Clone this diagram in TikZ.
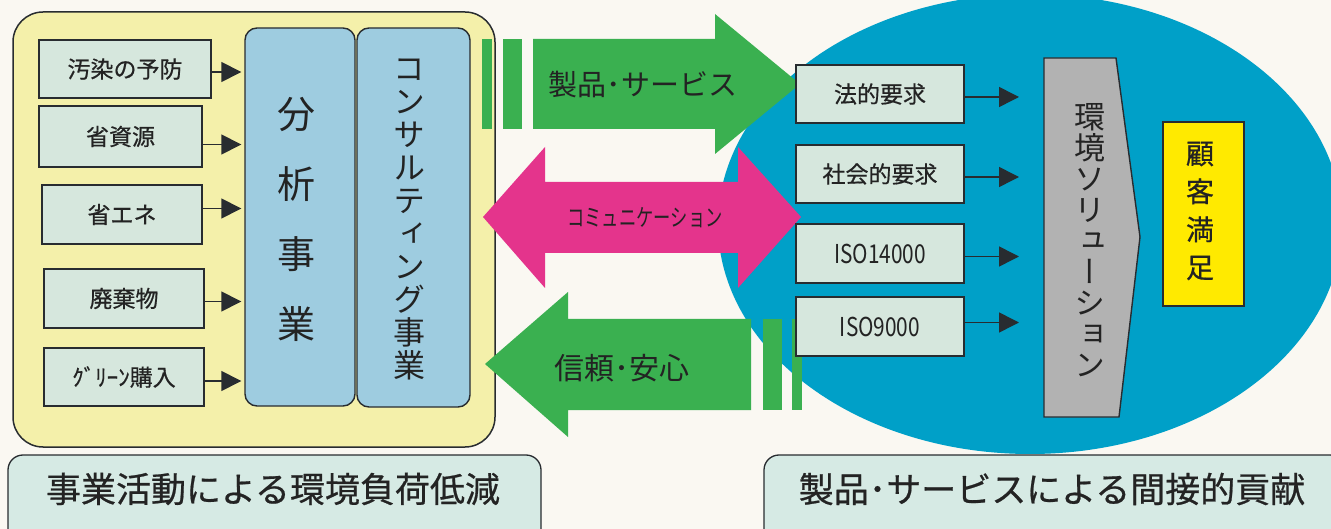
\documentclass[tikz,border=0pt]{standalone}
\usepackage{fontspec}
\usepackage{graphicx}
\usetikzlibrary{arrows.meta}
\newfontfamily\jp{Noto Sans CJK JP}
\newfontfamily\jpb[FakeBold=0.6]{Noto Sans CJK JP}
\newfontfamily\jpv[RawFeature=+vert]{Noto Sans CJK JP}
\definecolor{bgc}{RGB}{250,248,242}
\definecolor{yel}{RGB}{244,240,170}
\definecolor{lbox}{RGB}{214,231,221}
\definecolor{bluec}{RGB}{158,204,224}
\definecolor{grn}{RGB}{58,176,80}
\definecolor{mag}{RGB}{228,52,140}
\definecolor{ell}{RGB}{0,160,200}
\definecolor{gry}{RGB}{178,178,178}
\definecolor{yel2}{RGB}{255,234,0}
\definecolor{lab}{RGB}{214,234,228}
\definecolor{bd}{RGB}{40,44,48}
\definecolor{txt}{RGB}{35,35,35}
\tikzset{
  sbox/.style={draw=bd, fill=lbox, line width=1.4pt, inner sep=0pt, text=txt,
    font=\jpb\fontsize{23}{23}\selectfont},
  bbox/.style={draw=bd, fill=bluec, line width=1.4pt, rounded corners=12pt, inner sep=0pt},
  vtext/.style={align=center, inner sep=0pt, text=txt},
  arr/.style={draw=bd, line width=1.5pt, -{Triangle[length=20pt,width=20pt]}},
  lbl/.style={text=txt, inner sep=0pt},
}
\begin{document}
\begin{tikzpicture}[x=1pt,y=-1pt]
\useasboundingbox (0,0) rectangle (1331,529);
\clip (0,0) rectangle (1331,529);
\fill[bgc] (0,0) rectangle (1331,529);

% big yellow panel
\draw[bd, fill=yel, line width=1.5pt, rounded corners=30pt] (13,12) rectangle (495,447);

% bottom labels
\draw[bd, fill=lab, line width=1.3pt, rounded corners=15pt] (8,455) rectangle (541,545);
\node[lbl, font=\jpb\fontsize{35}{35}\selectfont] (lt1) at (273,489) {事業活動による環境負荷低減};
\draw[bd, fill=lab, line width=1.3pt, rounded corners=15pt] (764,455) rectangle (1345,545);
\node[lbl, font=\jpb\fontsize{35}{35}\selectfont] (lt2) at (1052,489) {製品･サービスによる間接的貢献};

% ellipse
\fill[ell] (1030,224) ellipse [x radius=312, y radius=230];

% top green arrow (right)
\fill[grn] (482,39) rectangle (492,129);
\fill[grn] (503,39) rectangle (522,129);
\fill[grn] (533,39) -- (715,39) -- (715,14) -- (800,84) -- (715,154) -- (715,129) -- (533,129) -- cycle;
\node[lbl, font=\jp\fontsize{29}{29}\selectfont] (t1) at (643,85) {製品･サービス};

% magenta double arrow
\fill[mag] (483,217) -- (545,147) -- (545,182) -- (738,182) -- (738,147) -- (801,217) -- (738,288) -- (738,253) -- (545,253) -- (545,288) -- cycle;
\node[lbl, font=\jp\fontsize{24}{24}\selectfont] (t2) at (645,218) {\scalebox{0.72}[1]{コミュニケーション}};

% bottom green arrow (left)
\fill[grn] (485,364) -- (568,292) -- (568,319) -- (751,319) -- (751,410) -- (568,410) -- (568,437) -- cycle;
\fill[grn] (763,319) rectangle (782,410);
\fill[grn] (792,319) rectangle (802,410);
\node[lbl, font=\jp\fontsize{30}{30}\selectfont] (t3) at (622,368) {信頼･安心};

% analysis / consulting columns
\node[bbox, minimum width=110pt, minimum height=378pt] (A) at (300,217) {};
\node[vtext, font=\jp\fontsize{38}{70}\selectfont\setlength\lineskiplimit{-200pt}] (At) at (296,219) {分\\析\\事\\業};
\node[bbox, minimum width=113pt, minimum height=379pt] (C) at (413.5,217.5) {};
\node[vtext, font=\jpv\fontsize{32}{33}\selectfont\setlength\lineskiplimit{-200pt}] (Ct) at (409,219) {コ\\ン\\サ\\ル\\テ\\ィ\\ン\\グ\\事\\業};

% left small boxes
\node[sbox, minimum width=172pt, minimum height=58pt] (l1) at (125,69) {汚染の予防};
\node[sbox, minimum width=163pt, minimum height=61pt] (l2) at (120.5,136.5) {省資源};
\node[sbox, minimum width=160pt, minimum height=59pt] (l3) at (122,214.5) {省エネ};
\node[sbox, minimum width=160pt, minimum height=59pt] (l4) at (124,298.5) {廃棄物};
\node[sbox, minimum width=160pt, minimum height=58pt] (l5) at (124,377) {ｸﾞﾘｰﾝ購入};

\draw[arr, shorten >=3pt] ([yshift=-3pt]l1.east) -- ([yshift=-3pt]l1.east -| A.west);
\draw[arr, shorten >=3pt] ([yshift=-8pt]l2.east) -- ([yshift=-8pt]l2.east -| A.west);
\draw[arr, shorten >=3pt] ([yshift=6pt]l3.east) -- ([yshift=6pt]l3.east -| A.west);
\draw[arr, shorten >=3pt] ([yshift=-3pt]l4.east) -- ([yshift=-3pt]l4.east -| A.west);
\draw[arr, shorten >=3pt] ([yshift=-4pt]l5.east) -- ([yshift=-4pt]l5.east -| A.west);

% right small boxes
\node[sbox, minimum width=168pt, minimum height=58pt] (r1) at (880,94) {法的要求};
\node[sbox, minimum width=168pt, minimum height=58pt] (r2) at (880,174) {社会的要求};
\node[sbox, minimum width=168pt, minimum height=59pt, font=\jp\fontsize{26}{26}\selectfont] (r3) at (880,253.5) {\scalebox{0.8}[1]{ISO14000}};
\node[sbox, minimum width=168pt, minimum height=59pt, font=\jp\fontsize{26}{26}\selectfont] (r4) at (880,326.5) {\scalebox{0.8}[1]{ISO9000}};

% environmental solution shape
\draw[bd, fill=gry, line width=1.4pt] (1044,58) -- (1116,58) -- (1140,237) -- (1119,417) -- (1044,417) -- cycle;
\coordinate (Gw) at (1044,237);
\node[vtext, font=\jpv\fontsize{31}{31}\selectfont\setlength\lineskiplimit{-200pt}] (G) at (1090,240) {環\\境\\ソ\\リ\\ュ\\ー\\シ\\ョ\\ン};

\draw[arr, shorten >=25pt] ([yshift=-3pt]r1.east) -- ([yshift=-3pt]r1.east -| Gw);
\draw[arr, shorten >=25pt] ([yshift=-3pt]r2.east) -- ([yshift=-3pt]r2.east -| Gw);
\draw[arr, shorten >=25pt] ([yshift=-3pt]r3.east) -- ([yshift=-3pt]r3.east -| Gw);
\draw[arr, shorten >=25pt] ([yshift=4pt]r4.east) -- ([yshift=4pt]r4.east -| Gw);

% customer satisfaction
\node[draw=bd, fill=yel2, line width=1.4pt, minimum width=81pt, minimum height=184pt, inner sep=0pt] (Y) at (1203.5,214) {};
\node[vtext, font=\jpb\fontsize{28}{38}\selectfont\setlength\lineskiplimit{-200pt}] (Yt) at (1200,211) {顧\\客\\満\\足};
\end{tikzpicture}
\end{document}
